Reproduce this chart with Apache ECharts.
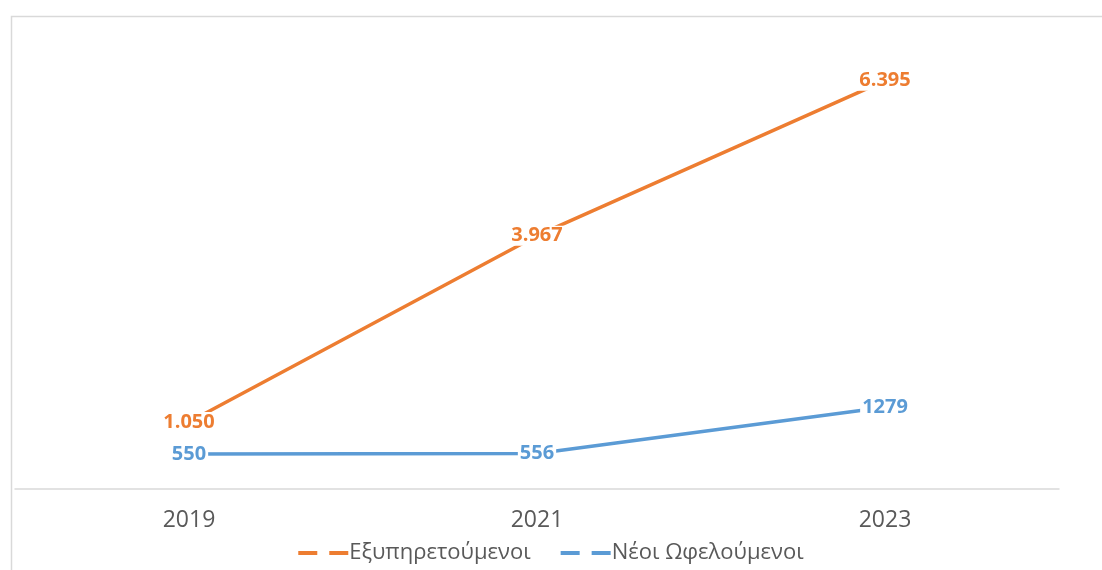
<!DOCTYPE html>
<html>
<head>
<meta charset="utf-8">
<script src="https://cdn.jsdelivr.net/npm/echarts@6/dist/echarts.min.js"></script>
<style>
  html, body { margin: 0; padding: 0; background: #fff; }
  #chart { width: 1102px; height: 570px; }
</style>
</head>
<body>
<div id="chart"></div>
<script>
const years = ['2019', '2021', '2023']
const served = [1050, 3967, 6395]
const newBeneficiaries = [550, 556, 1279]
const seriesNames = ['Εξυπηρετούμενοι', 'Νέοι Ωφελούμενοι']

const orange = '#ED7D31'
const blue = '#5B9BD5'

// thousands with a dot, as in the original
const dotThousands = (v) => String(v).replace(/\B(?=(\d{3})+(?!\d))/g, '.')

const chart = echarts.init(document.getElementById('chart'))

const labelStyle = (color, fmt) => ({
  show: true,
  position: 'inside',
  color: color,
  fontFamily: 'Open Sans',
  fontWeight: 'bold',
  fontSize: 20,
  backgroundColor: '#fff',
  padding: [0, 2],
  formatter: fmt
})

const dashIcon = 'path://M0,0h19v4h-19z M31,0h19v4h-19z'

chart.setOption({
  animation: false,
  graphic: [
    {
      type: 'rect',
      left: 9,
      top: 14,
      shape: { width: 1200, height: 700 },
      style: { fill: 'none', stroke: '#d9d9d9', lineWidth: 1.5 },
      silent: true
    }
  ],
  grid: { left: 15, right: 43, top: 42, bottom: 81 },
  legend: {
    bottom: 1,
    left: 'center',
    itemWidth: 50,
    itemHeight: 4,
    itemGap: 30,
    textStyle: { color: '#595959', fontFamily: 'Open Sans', fontSize: 22, padding: [0, 0, 0, -4] },
    data: [
      { name: seriesNames[0], icon: dashIcon, itemStyle: { color: orange } },
      { name: seriesNames[1], icon: dashIcon, itemStyle: { color: blue } }
    ]
  },
  xAxis: {
    type: 'category',
    data: years,
    boundaryGap: true,
    axisLine: { lineStyle: { color: '#d9d9d9', width: 1.5 } },
    axisTick: { show: false },
    axisLabel: { color: '#595959', fontFamily: 'Open Sans', fontSize: 23, margin: 20 }
  },
  yAxis: {
    type: 'value',
    min: 0,
    max: 7000,
    show: false,
    splitLine: { show: false }
  },
  series: [
    {
      name: seriesNames[0],
      type: 'line',
      data: served,
      symbol: 'circle',
      symbolSize: 0.1,
      lineStyle: { color: orange, width: 3.5 },
      itemStyle: { color: orange },
      label: labelStyle(orange, (p) => dotThousands(p.value))
    },
    {
      name: seriesNames[1],
      type: 'line',
      data: newBeneficiaries,
      symbol: 'circle',
      symbolSize: 0.1,
      lineStyle: { color: blue, width: 3.5 },
      itemStyle: { color: blue },
      label: labelStyle(blue, (p) => String(p.value))
    }
  ]
})
</script>
</body>
</html>
